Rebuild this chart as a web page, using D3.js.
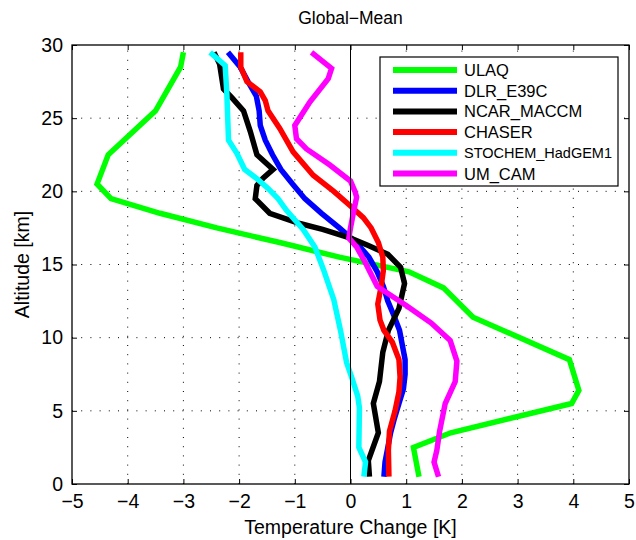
<!DOCTYPE html>
<html><head><meta charset="utf-8">
<script src="https://cdn.jsdelivr.net/npm/d3@7"></script>
<style>body{margin:0;background:#fff} text{font-family:"Liberation Sans",Arial,Helvetica,sans-serif;fill:#000}</style>
</head><body><svg id="c" width="636" height="540"></svg>
<script>
// ---- data ----
const seriesNames = ["ULAQ","DLR_E39C","NCAR_MACCM","CHASER","STOCHEM_HadGEM1","UM_CAM"];
const seriesColors = ["#00ff00","#0000ff","#000000","#ff0000","#00ffff","#ff00ff"];

const ulaqAlt = [29.5,28.5,25.5,22.5,20.5,19.5,18.5,17.5,16.5,15.5,14.5,13.4,11.4,8.5,6.4,5.5,3.5,2.5,0.5];
const ulaqT   = [-3.0,-3.05,-3.5,-4.35,-4.55,-4.3,-3.42,-2.4,-1.27,-0.2,1.05,1.67,2.2,3.93,4.1,3.97,1.8,1.13,1.23];

const dlrAlt = [29.5,28.5,27.5,26.5,25.5,24.5,23.5,22.5,21.5,20.5,19.5,18.5,17.5,16.5,15.5,14.5,13.5,12.5,11.5,10.5,9.5,8.5,7.5,6.5,5.5,4.5,3.5,2.5,1.5,0.5];
const dlrT   = [-2.2,-1.98,-1.84,-1.69,-1.64,-1.62,-1.53,-1.4,-1.25,-1.04,-0.82,-0.52,-0.2,0.1,0.33,0.48,0.59,0.67,0.78,0.88,0.93,0.98,0.98,0.95,0.87,0.79,0.72,0.67,0.62,0.6];

const ncarAlt = [29.5,28.7,27.0,26.4,25.5,24.1,22.5,21.5,20.9,20.4,19.5,18.5,17.8,17.4,16.8,16.3,15.7,14.8,13.7,12.0,10.5,9.0,7.0,5.5,3.5,1.6,0.5];
const ncarT   = [-2.45,-2.35,-2.28,-2.13,-1.92,-1.8,-1.68,-1.39,-1.57,-1.68,-1.71,-1.45,-0.91,-0.5,0.0,0.32,0.67,0.9,0.97,0.87,0.68,0.58,0.52,0.41,0.5,0.32,0.34];

const chaserAlt = [29.5,28.5,27.5,26.8,26.2,25.5,24.3,22.7,21.1,20.0,19.0,18.2,17.5,16.5,15.5,14.6,13.5,12.3,11.2,10.5,9.7,8.5,7.3,6.3,5.0,3.6,2.3,0.5];
const chaserT   = [-1.97,-1.97,-1.86,-1.62,-1.53,-1.48,-1.27,-1.03,-0.67,-0.3,0.0,0.23,0.37,0.5,0.58,0.59,0.55,0.49,0.53,0.6,0.75,0.87,0.89,0.87,0.8,0.7,0.68,0.69];

const stochemAlt = [29.5,28.6,26.7,23.5,22.6,21.5,20.8,20.2,19.5,18.7,17.4,16.2,14.6,12.6,10.5,8.3,7.3,6.0,5.2,2.5,1.5,0.5];
const stochemT   = [-2.52,-2.25,-2.22,-2.19,-2.04,-1.9,-1.66,-1.48,-1.3,-1.15,-0.85,-0.64,-0.48,-0.3,-0.18,-0.07,0.02,0.13,0.16,0.15,0.27,0.24];

const umcamAlt = [29.5,28.4,27.7,26.1,24.5,23.6,22.9,21.8,20.7,20.0,19.6,18.5,17.5,16.8,16.2,15.1,13.5,12.2,11.0,9.8,8.4,7.0,5.5,3.6,2.3,1.5,0.5];
const umcamT   = [-0.7,-0.34,-0.4,-0.73,-1.0,-0.97,-0.79,-0.37,0.0,0.08,0.11,0.05,0.0,-0.03,0.11,0.27,0.48,1.0,1.45,1.79,1.91,1.88,1.7,1.6,1.55,1.5,1.58];

const xTicks = [-5,-4,-3,-2,-1,0,1,2,3,4,5];
const yTicks = [0,5,10,15,20,25,30];
const titleText = "Global\u2212Mean";
const xLabel = "Temperature Change [K]";
const yLabel = "Altitude [km]";

// ---- layout ----
const svg = d3.select("#c");
const L = 72, R = 629, T = 45, B = 484;
const x = d3.scaleLinear().domain([-5,5]).range([L,R]);
const y = d3.scaleLinear().domain([0,30]).range([B,T]);
const fmt = d => (d<0 ? "\u2212"+Math.abs(d) : String(d));

const series = [
  {alt:ulaqAlt, t:ulaqT}, {alt:dlrAlt, t:dlrT}, {alt:ncarAlt, t:ncarT},
  {alt:chaserAlt, t:chaserT}, {alt:stochemAlt, t:stochemT}, {alt:umcamAlt, t:umcamT}
].map((s,i)=>({name:seriesNames[i], color:seriesColors[i], pts:s.alt.map((a,j)=>[s.t[j],a])}));

// grid
const grid = svg.append("g");
xTicks.slice(1,-1).forEach(v=>{
  grid.append("line").attr("x1",x(v)).attr("x2",x(v)).attr("y1",B).attr("y2",T)
    .attr("stroke","#000").attr("stroke-width",1).attr("stroke-dasharray","1,8.2");
});
yTicks.slice(1,-1).forEach(v=>{
  grid.append("line").attr("x1",L).attr("x2",R).attr("y1",y(v)).attr("y2",y(v))
    .attr("stroke","#000").attr("stroke-width",1).attr("stroke-dasharray","1,8.2");
});

// axes with inward ticks
const axB = d3.axisBottom(x).tickValues(xTicks).tickSize(-5).tickPadding(10).tickFormat(fmt);
const axT = d3.axisTop(x).tickValues(xTicks).tickSize(-5).tickFormat("");
const axL = d3.axisLeft(y).tickValues(yTicks).tickSize(-5).tickPadding(9).tickFormat(fmt);
const axR = d3.axisRight(y).tickValues(yTicks).tickSize(-5).tickFormat("");
function styleAx(g){
  g.select(".domain").remove();
  g.selectAll(".tick line").attr("stroke","#000").attr("stroke-width",1);
  g.selectAll("text").style("font-size","19.5px").attr("fill","#000");
}
svg.append("g").attr("transform",`translate(0,${B})`).call(axB).call(styleAx);
svg.append("g").attr("transform",`translate(0,${T})`).call(axT).call(styleAx);
svg.append("g").attr("transform",`translate(${L},0)`).call(axL).call(styleAx);
svg.append("g").attr("transform",`translate(${R},0)`).call(axR).call(styleAx);

// lines
const line = d3.line().x(d=>x(d[0])).y(d=>y(d[1]));
const plot = svg.append("g");
series.forEach(s=>{
  plot.append("path").attr("d",line(s.pts)).attr("fill","none")
    .attr("stroke",s.color).attr("stroke-width",5.5)
    .attr("stroke-linejoin","miter").attr("stroke-miterlimit",4);
});

// zero line
svg.append("line").attr("x1",x(0)).attr("x2",x(0)).attr("y1",y(0)).attr("y2",y(30))
  .attr("stroke","#000").attr("stroke-width",1);

// frame
svg.append("rect").attr("x",L).attr("y",T).attr("width",R-L).attr("height",B-T)
  .attr("fill","none").attr("stroke","#000").attr("stroke-width",1.3);

// legend
const lg = svg.append("g");
lg.append("rect").attr("x",380).attr("y",57).attr("width",238).attr("height",129)
  .attr("fill","#fff").attr("stroke","#000").attr("stroke-width",1.2);
series.forEach((s,i)=>{
  const yy = 70 + i*20.7;
  lg.append("line").attr("x1",393).attr("x2",457).attr("y1",yy).attr("y2",yy)
    .attr("stroke",s.color).attr("stroke-width",6);
  const t = lg.append("text").attr("x",464).attr("y",yy+6).style("font-size","16.5px").text(s.name);
  if (s.name.length > 12) t.style("font-size","14.5px").attr("y",yy+5);
});

// title and labels
svg.append("text").attr("x",(L+R)/2).attr("y",24).attr("text-anchor","middle").style("font-size","17.5px").text(titleText);
svg.append("text").attr("x",(L+R)/2).attr("y",534).attr("text-anchor","middle").style("font-size","19.5px").text(xLabel);
svg.append("text").attr("transform",`translate(29,${(T+B)/2}) rotate(-90)`).attr("text-anchor","middle").style("font-size","19.5px").text(yLabel);
</script></body></html>
